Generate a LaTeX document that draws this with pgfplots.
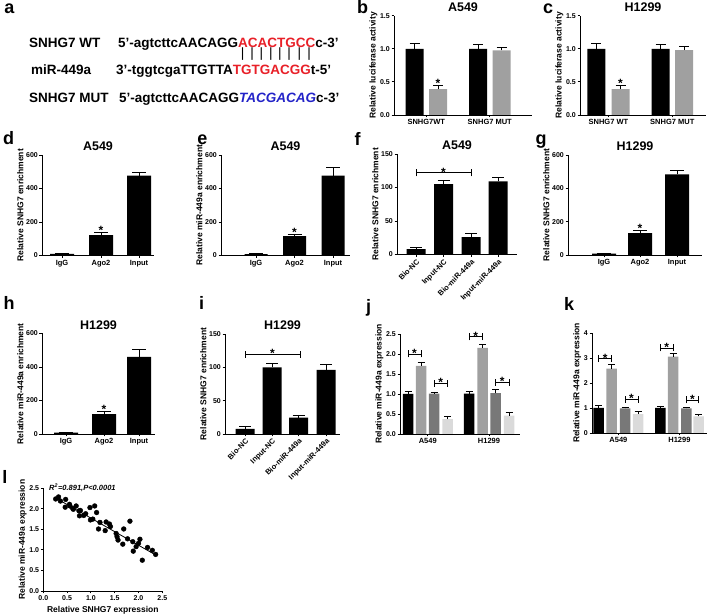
\documentclass[border=0pt]{standalone}
\usepackage{pgfplots}
\pgfplotsset{compat=1.18}
\usepackage{fontspec}
\setmainfont{Liberation Sans}
\definecolor{gA}{RGB}{160,160,160}
\definecolor{gD}{RGB}{120,120,120}
\definecolor{gL}{RGB}{218,218,218}
\definecolor{sred}{RGB}{232,32,40}
\definecolor{sblue}{RGB}{35,35,200}
\newlength\lw
\newcommand\vb[1]{\settowidth{\lw}{#1}\makebox[\lw]{|}}
\tikzset{sig/.style={font=\bfseries\fontsize{12}{12}\selectfont, anchor=base, inner sep=0pt, yshift=-2pt},
 plab/.style={font=\bfseries\fontsize{18}{18}\selectfont, inner sep=0pt, anchor=center},
 seq/.style={font=\bfseries\fontsize{13.5}{14}\selectfont, inner sep=0pt, anchor=base west}}
\newcommand\brk[4]{%
 \draw[line width=0.8pt] (axis cs:#1,#3) -- (axis cs:#2,#3);
 \draw[line width=0.8pt] (axis cs:#1,#3) ++(0,-3.5pt) -- ++(0,7pt);
 \draw[line width=0.8pt] (axis cs:#2,#3) ++(0,-3.5pt) -- ++(0,7pt);
 \node[sig, yshift=-1.5pt] at (axis cs:#4,#3) {*};}
\pgfplotsset{
 gp/.style={scale only axis, anchor=south west, axis lines=left,
  axis line style={-, line width=0.9pt}, tick style={black, line width=0.9pt},
  tick align=outside, major tick length=2.5pt, ymin=0, xmin=0, clip=false,
  /pgf/number format/assume math mode=true,
  yticklabel style={font=\bfseries\fontsize{7}{7}\selectfont, inner sep=1.5pt},
  xticklabel style={font=\bfseries\fontsize{7.5}{7.5}\selectfont, inner sep=2pt},
  label style={font=\bfseries\fontsize{8.5}{8.5}\selectfont},
  ylabel style={inner sep=1pt},
  title style={font=\bfseries\fontsize{12.5}{13}\selectfont, inner sep=1pt, yshift=-3pt}},
 dec/.style={yticklabel style={/pgf/number format/fixed, /pgf/number format/fixed zerofill, /pgf/number format/precision=1}},
 decx/.style={xticklabel style={/pgf/number format/fixed, /pgf/number format/fixed zerofill, /pgf/number format/precision=1, font=\bfseries\fontsize{7}{7}\selectfont}},
 gpb/.style={ybar, bar shift=0pt, draw=none, error bars/y dir=plus, error bars/y explicit,
  error bars/error bar style={line width=0.9pt, black},
  error bars/error mark options={rotate=90, line width=0.9pt, black, mark size=#1}},
}
\begin{document}
\begin{tikzpicture}
\useasboundingbox (0,0) rectangle (709pt,615pt);
% panel a
\node[plab] at (9.5pt,606pt) {a};
\node[seq] at (29pt,567.2pt) {SNHG7 WT};
\node[seq] at (31pt,540.9pt) {miR-449a};
\node[seq] at (29pt,512.2pt) {SNHG7 MUT};
\node[seq] at (118pt,567.2pt) {5'-agtcttcAACAGG\textcolor{sred}{ACACTGCC}c-3'};
\node[seq] at (118pt,557.5pt) {\phantom{5'-agtcttcAACAGG}\mdseries\vb{A}\vb{C}\vb{A}\vb{C}\vb{T}\vb{G}\vb{C}\vb{C}};
\node[seq] at (116pt,540.9pt) {3'-tggtcgaTTGTTA\textcolor{sred}{TGTGACGG}t-5'};
\node[seq] at (119pt,512.2pt) {5'-agtcttcAACAGG\textcolor{sblue}{\itshape TACGACAG}c-3'};
% letters
\node[plab] at (362.5pt,607.5pt) {b};
\node[plab] at (548pt,606pt) {c};
\node[plab] at (8.5pt,476.5pt) {d};
\node[plab] at (202.5pt,475pt) {e};
\node[plab] at (357.5pt,476.5pt) {f};
\node[plab] at (541pt,473.5pt) {g};
\node[plab] at (9pt,312.5pt) {h};
\node[plab] at (201.5pt,312.5pt) {i};
\node[plab] at (368.5pt,307.5pt) {j};
\node[plab] at (569pt,311pt) {k};
\node[plab] at (5pt,138.5pt) {l};

% b
\begin{axis}[gp, dec, at={(394pt,500pt)}, width=138pt, height=99.3pt, xmax=138, ymax=1.5,
 ytick={0,0.5,1,1.5}, xtick={32.25,95.75}, xticklabels={SNHG7WT,SNHG7 MUT},
 ylabel={Relative luciferase activity}, title={A549}]
\addplot[gpb=5pt, fill=black, bar width=18] coordinates {(20.5,1.0) +- (0,0.08) (84,1.0) +- (0,0.07)};
\addplot[gpb=5pt, fill=gA, bar width=18] coordinates {(44,0.39) +- (0,0.06) (107.5,0.975) +- (0,0.05)};
\node[sig] at (axis cs:44,0.45) {*};
\end{axis}
% c
\begin{axis}[gp, dec, at={(580pt,500pt)}, width=126pt, height=99.3pt, xmax=126, ymax=1.5,
 ytick={0,0.5,1,1.5}, xtick={28.4,92.3}, xticklabels={SNHG7 WT,SNHG7 MUT},
 ylabel={Relative luciferase activity}, title={H1299}]
\addplot[gpb=5pt, fill=black, bar width=18] coordinates {(16.3,1.0) +- (0,0.08) (80.5,1.0) +- (0,0.06)};
\addplot[gpb=5pt, fill=gA, bar width=18] coordinates {(40.5,0.39) +- (0,0.05) (104,0.98) +- (0,0.05)};
\node[sig] at (axis cs:40.5,0.44) {*};
\end{axis}
% d
\begin{axis}[gp, at={(42pt,359.5pt)}, width=112pt, height=100.5pt, xmax=112, ymax=600,
 ytick={0,200,400,600}, xtick={20,59,97}, xticklabels={IgG,Ago2,Input},
 ylabel={Relative SNHG7 enrichment}, title={A549}]
\addplot[gpb=7pt, fill=black, bar width=24] coordinates {(20,10) +- (0,2) (59,122) +- (0,15) (97,477) +- (0,20)};
\node[sig] at (axis cs:59,137) {*};
\end{axis}
% e
\begin{axis}[gp, at={(221pt,359.5pt)}, width=129pt, height=100.5pt, xmax=129, ymax=600,
 ytick={0,200,400,600}, xtick={35,73.5,112}, xticklabels={IgG,Ago2,Input},
 ylabel={Relative miR-449a enrichment}, title={A549}]
\addplot[gpb=7pt, fill=black, bar width=23] coordinates {(35,8) +- (0,2) (73.5,115) +- (0,8) (112,477) +- (0,47)};
\node[sig] at (axis cs:73.5,123) {*};
\end{axis}
% f
\begin{axis}[gp, at={(397pt,360.5pt)}, width=120pt, height=100.5pt, xmax=120, ymax=150,
 ytick={0,50,100,150}, xtick={19,46.5,74,101}, xticklabels={Bio-NC,Input-NC,Bio-miR-449a,Input-miR-449a},
 xticklabel style={rotate=45, anchor=north east, inner sep=1pt},
 ylabel={Relative SNHG7 enrichment}, title={A549}]
\addplot[gpb=6pt, fill=black, bar width=19] coordinates {(19,8) +- (0,2) (46.5,105) +- (0,5) (74,26) +- (0,6) (101,109) +- (0,6)};
\brk{19}{74}{122}{46.5}
\end{axis}
% g
\begin{axis}[gp, at={(568pt,360pt)}, width=134pt, height=100pt, xmax=134, ymax=600,
 ytick={0,200,400,600}, xtick={36,72,109}, xticklabels={IgG,Ago2,Input},
 ylabel={Relative SNHG7 enrichment}, title={H1299}]
\addplot[gpb=7pt, fill=black, bar width=24] coordinates {(36,8) +- (0,2) (72,131) +- (0,18) (109,483) +- (0,22)};
\node[sig] at (axis cs:72,149) {*};
\end{axis}
% h
\begin{axis}[gp, at={(42pt,181pt)}, width=113pt, height=100.5pt, xmax=113, ymax=600,
 ytick={0,200,400,600}, xtick={24,62,97}, xticklabels={IgG,Ago2,Input},
 ylabel={Relative miR-449a enrichment}, title={H1299}]
\addplot[gpb=7pt, fill=black, bar width=24] coordinates {(24,8) +- (0,2) (62,119) +- (0,16) (97,461) +- (0,46)};
\node[sig] at (axis cs:62,135) {*};
\end{axis}
% i
\begin{axis}[gp, at={(225pt,181pt)}, width=115pt, height=100pt, xmax=115, ymax=150,
 ytick={0,50,100,150}, xtick={20,47,73.5,101}, xticklabels={Bio-NC,Input-NC,Bio-miR-449a,Input-miR-449a},
 xticklabel style={rotate=45, anchor=north east, inner sep=1pt},
 ylabel={Relative SNHG7 enrichment}, title={H1299}]
\addplot[gpb=6pt, fill=black, bar width=19] coordinates {(20,7.5) +- (0,3.5) (47,100) +- (0,6) (73.5,24.5) +- (0,4) (101,96) +- (0,9)};
\brk{20}{75}{119.5}{47.5}
\end{axis}
% j
\begin{axis}[gp, dec, at={(400pt,181pt)}, width=120pt, height=100pt, xmax=120, ymax=2.5,
 ytick={0,0.5,1,1.5,2,2.5}, xtick={27.75,89}, xticklabels={A549,H1299},
 ylabel={Relative miR-449a expression}]
\addplot[gpb=3.5pt, fill=black, bar width=10.5] coordinates {(8,1.0) +- (0,0.07) (69,1.01) +- (0,0.05)};
\addplot[gpb=3.5pt, fill=gA, bar width=10.5] coordinates {(21,1.7) +- (0,0.1) (82.5,2.15) +- (0,0.08)};
\addplot[gpb=3.5pt, fill=gD, bar width=10.5] coordinates {(34,1.01) +- (0,0.04) (95.5,1.02) +- (0,0.09)};
\addplot[gpb=3.5pt, fill=gL, bar width=10.5] coordinates {(47.5,0.37) +- (0,0.08) (109,0.46) +- (0,0.07)};
\brk{8}{21}{2.0}{14.5}
\brk{34}{47.5}{1.27}{40.75}
\brk{69}{82.5}{2.43}{75.75}
\brk{95.5}{109}{1.29}{102.25}
\end{axis}
% k
\begin{axis}[gp, at={(592pt,182pt)}, width=115pt, height=100pt, xmax=115, ymax=4,
 ytick={0,1,2,3,4}, xtick={26.4,87.4}, xticklabels={A549,H1299},
 ylabel={Relative miR-449a expression}]
\addplot[gpb=3.5pt, fill=black, bar width=10.5] coordinates {(6.7,1.0) +- (0,0.1) (68.3,1.0) +- (0,0.08)};
\addplot[gpb=3.5pt, fill=gA, bar width=10.5] coordinates {(19.7,2.57) +- (0,0.16) (81,3.05) +- (0,0.12)};
\addplot[gpb=3.5pt, fill=gD, bar width=10.5] coordinates {(33,0.98) +- (0,0.06) (94.3,0.98) +- (0,0.05)};
\addplot[gpb=3.5pt, fill=gL, bar width=10.5] coordinates {(46,0.75) +- (0,0.12) (106.5,0.66) +- (0,0.09)};
\brk{6.7}{19.7}{2.97}{13.2}
\brk{33}{46}{1.35}{39.5}
\brk{68.3}{81}{3.4}{74.65}
\brk{94.3}{106.5}{1.32}{100.4}
\end{axis}
% l
\begin{axis}[gp, dec, decx, at={(43.3pt,24pt)}, width=119pt, height=102.7pt, xmax=2.5, ymax=2.5,
 xtick={0,0.5,1,1.5,2,2.5}, ytick={0,0.5,1,1.5,2,2.5},
 xlabel={Relative SNHG7 expression}, ylabel={Relative miR-449a expression}]
\addplot[only marks, mark=*, mark size=2.4pt, black] coordinates {
(0.26,2.24) (0.32,2.29) (0.36,2.19) (0.47,2.23) (0.46,2.04) (0.55,2.11) (0.56,2.07) (0.62,2.01)
(0.63,1.99) (0.69,2.07) (0.75,1.95) (0.78,1.96) (0.76,1.83) (0.85,1.84) (0.89,1.88) (0.98,2.03)
(1.08,2.07) (0.99,1.73) (1.04,1.75) (1.12,1.91) (1.16,1.51) (1.19,1.67) (1.30,1.47) (1.32,1.68)
(1.39,1.63) (1.41,1.57) (1.53,1.40) (1.55,1.32) (1.57,1.24) (1.67,1.14) (1.69,1.51) (1.77,1.27)
(1.82,1.70) (1.88,1.20) (1.89,0.97) (1.95,1.08) (2.00,1.16) (2.03,1.26) (2.08,0.75) (2.19,1.06)
(2.29,0.99) (2.36,0.89)};
\addplot[black, line width=0.8pt] coordinates {(0.25,2.27) (2.37,0.87)};
\node[anchor=west, inner sep=0pt, font=\bfseries\itshape\fontsize{7.5}{8}\selectfont] at (axis cs:0.12,2.52) {R\textsuperscript{2}=0.891,P<0.0001};
\end{axis}
\end{tikzpicture}
\end{document}
